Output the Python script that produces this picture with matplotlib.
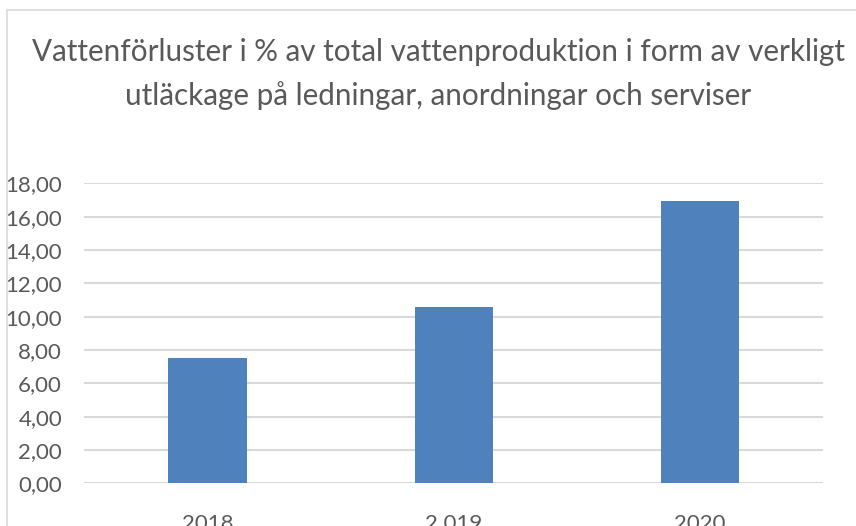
import matplotlib
matplotlib.use("Agg")
import matplotlib.pyplot as plt
from matplotlib.patches import Rectangle

# data
years = ["2018", "2 019", "2020"]
losses = [7.5, 10.6, 16.94]
y_ticks = [0, 2, 4, 6, 8, 10, 12, 14, 16, 18]
y_tick_labels = ["0,00", "2,00", "4,00", "6,00", "8,00", "10,00", "12,00", "14,00", "16,00", "18,00"]
title = ("Vattenförluster i % av total vattenproduktion i form av verkligt\n"
         "utläckage på ledningar, anordningar och serviser")

plt.rcParams["font.family"] = ["Lato", "DejaVu Sans"]
text_col = "#595959"
grid_col = "#D9D9D9"

fig = plt.figure(figsize=(8.56, 5.26), dpi=100)
ax = fig.add_axes([84.3 / 856, 1 - 483.3 / 526, 739 / 856, 300 / 526])

# chart frame (only top and left edges are visible in the crop)
fig.patches.append(Rectangle((7 / 856, -0.1), 2, 1.1 - 10 / 526, transform=fig.transFigure,
                             fill=False, edgecolor=grid_col, linewidth=1.2))

x = range(len(years))
ax.bar(x, losses, width=0.317, color="#4F81BD", zorder=3)

ax.set_xlim(-0.5, len(years) - 0.5)
ax.set_ylim(0, 18)
ax.set_yticks(y_ticks)
ax.set_yticklabels(y_tick_labels)
ax.set_xticks(list(x))
ax.set_xticklabels(years)
ax.tick_params(axis="y", length=0, pad=16, labelsize=16, labelcolor=text_col)
ax.tick_params(axis="x", length=0, pad=22, labelsize=16, labelcolor=text_col)
ax.yaxis.grid(True, color=grid_col, linewidth=1.5, zorder=0)
for s in ax.spines.values():
    s.set_visible(False)

fig.text(0.512, 1 - 74 / 526, title, ha="center", va="center", fontsize=21.3,
         color=text_col, linespacing=1.6)

fig.savefig("out.png", dpi=100)
